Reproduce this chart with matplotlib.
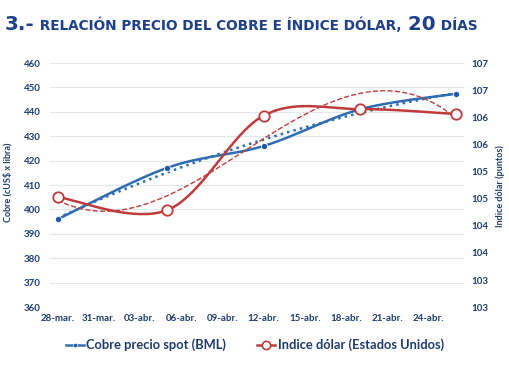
import numpy as np
import matplotlib.pyplot as plt
from matplotlib.lines import Line2D

# datos semanales (dias desde 28-mar.)
dias = [0, 8, 15, 22, 29]
cobre = [396.0, 417.1, 426.0, 441.0, 447.4]
dolar = [104.83, 104.59, 106.33, 106.45, 106.36]
tick_dias = [0, 3, 6, 9, 12, 15, 18, 21, 24, 27]
tick_labels = ['28-mar.', '31-mar.', '03-abr.', '06-abr.', '09-abr.',
               '12-abr.', '15-abr.', '18-abr.', '21-abr.', '24-abr.']

AZUL = '#2E6DB4'
ROJO = '#BF3B3B'
TEXTO = '#1F3A6E'


def suave(x, y, n=40):
    # curva suavizada tipo Excel (bezier catmull-rom)
    p = np.column_stack([x, y]).astype(float)
    p = np.vstack([p[0], p, p[-1]])
    t = np.linspace(0, 1, n)[:, None]
    seg = []
    for i in range(1, len(p) - 2):
        p0, p1, p2, p3 = p[i - 1], p[i], p[i + 1], p[i + 2]
        c1 = p1 + (p2 - p0) / 6
        c2 = p2 - (p3 - p1) / 6
        seg.append((1 - t) ** 3 * p1 + 3 * (1 - t) ** 2 * t * c1
                   + 3 * (1 - t) * t ** 2 * c2 + t ** 3 * p2)
    b = np.vstack(seg)
    return b[:, 0], b[:, 1]


fig = plt.figure(figsize=(5.1, 3.82), dpi=100)
ax = fig.add_axes([0.098, 0.196, 0.812, 0.639])
ax2 = ax.twinx()

# lineas de tendencia
xx = np.linspace(dias[0], dias[-1], 200)
ax.plot(xx, np.polyval(np.polyfit(dias, cobre, 2), xx), ':', color=AZUL, lw=1.8)
ax2.plot(xx, np.polyval(np.polyfit(dias, dolar, 3), xx), '--', color=ROJO, lw=1.0)

sx, sy = suave(dias, cobre)
ax.plot(sx, sy, color=AZUL, lw=1.8)
ax.plot(dias, cobre, 'o', color='#1F5AA6', ms=4.5, mec='white', mew=0.6)
sx, sy = suave(dias, dolar)
ax2.plot(sx, sy, color=ROJO, lw=1.8)
ax2.plot(dias, dolar, 'o', mfc='white', mec=ROJO, mew=1.3, ms=7.5)

ax.set_xlim(-0.55, 29.6)
ax.set_ylim(360, 460)
ax.set_yticks(range(360, 461, 10))
ax2.set_ylim(102.8, 107.3)
ax2.set_yticks(np.arange(102.8, 107.31, 0.5))
ax2.set_yticklabels(['%.0f' % v for v in np.arange(102.8, 107.31, 0.5)])
ax.set_xticks(tick_dias)
ax.set_xticklabels(tick_labels)

ax.grid(axis='y', color='#E3E6EA', lw=0.8)
ax.set_axisbelow(True)
for a in (ax, ax2):
    for s in a.spines.values():
        s.set_visible(False)
    a.tick_params(length=0, labelsize=7, labelcolor=TEXTO)
    for lab in a.get_xticklabels() + a.get_yticklabels():
        lab.set_fontfamily('Lato')
        lab.set_fontweight('bold')
ax.tick_params(axis='y', pad=6.5)
ax.tick_params(axis='x', pad=5)
ax2.tick_params(axis='y', pad=5)

fig.text(0.016, 0.524, 'Cobre (cUS$ x libra)', rotation=90, ha='center', va='center',
         fontsize=6.5, color=TEXTO, fontfamily='Lato', fontweight='bold')
fig.text(0.981, 0.514, 'Indice dólar (puntos)', rotation=90, ha='center', va='center',
         fontsize=6.5, color=TEXTO, fontfamily='Lato', fontweight='bold')

handles = [Line2D([], [], color=AZUL, lw=1.8, marker='o', ms=3, mfc='#1F5AA6', mec='white', mew=0.4),
           Line2D([], [], color=ROJO, lw=1.8, marker='o', ms=6, mfc='white', mec=ROJO, mew=1.2)]
fig.legend(handles, ['Cobre precio spot (BML)', 'Indice dólar (Estados Unidos)'],
           loc='center', bbox_to_anchor=(0.5, 0.097), ncol=2, frameon=False,
           handlelength=1.4, handletextpad=0.2, columnspacing=2.4,
           prop={'family': 'Lato', 'size': 9.3, 'weight': 'bold'}, labelcolor=TEXTO)

# titulo en varias piezas
piezas = [('3.-', 14.3), (' RELACIÓN PRECIO DEL COBRE E ÍNDICE DÓLAR,', 9.8), (' 20', 14.3), (' DÍAS', 9.8)]
r = fig.canvas.get_renderer()
x = 5
for txt, size in piezas:
    t = fig.text(x / 510, 1 - 30 / 382, txt, fontsize=size, fontweight='bold', color='#1E3F8A',
                 fontfamily='DejaVu Sans', va='baseline', ha='left')
    x = t.get_window_extent(r).x1

fig.savefig('out.png', dpi=100)
